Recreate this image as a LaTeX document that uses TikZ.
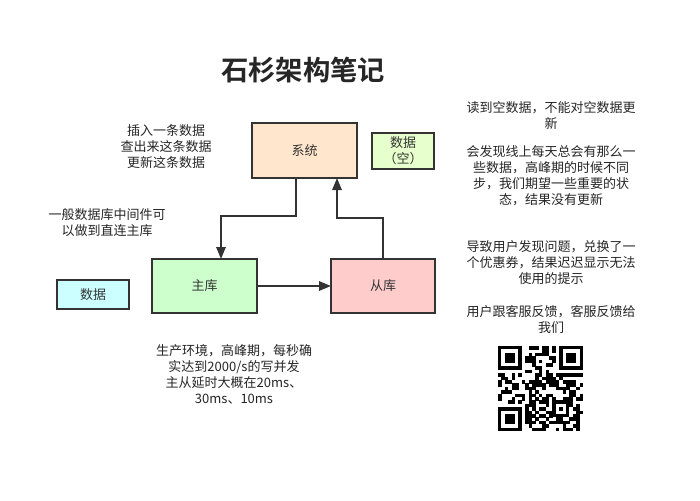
\documentclass[tikz,border=0pt]{standalone}
\usepackage{fontspec}
\setmainfont{Noto Sans CJK SC}[BoldFont={Noto Sans CJK SC Bold}]
\usetikzlibrary{arrows.meta}
\tikzset{
  box/.style={draw=black!80, line width=1.5pt, outer sep=0pt, inner sep=0pt, font=\fontsize{9.75}{12}\selectfont, text=black!80},
  note/.style={align=center, inner sep=0pt, font=\fontsize{9.75}{12}\selectfont, text=black!85},
  arr/.style={draw=black!80, line width=1.5pt, -{Triangle[length=9pt,width=7pt]}},
  qr/.style={fill=black, draw=none}
}
\begin{document}
\begin{tikzpicture}[x=0.75pt, y=-0.75pt]
\fill[white] (0,0) rectangle (700,500);
\useasboundingbox (0,0) rectangle (700,500);
\node[font=\fontsize{20.5}{24}\selectfont\bfseries, text=black!85] (title) at (303,70) {石杉架构笔记};

\node[box, fill={rgb,255:red,255;green,230;blue,204}, minimum width=78.75pt, minimum height=41.25pt] (sys) at (304.5,150.5) {系统};
\node[box, fill={rgb,255:red,230;green,255;blue,204}, minimum width=46.5pt, minimum height=27pt, align=center] (empty) at (403,151) {数据\\（空）};
\node[box, fill={rgb,255:red,204;green,255;blue,204}, minimum width=78.75pt, minimum height=40.5pt] (master) at (204.5,286) {主库};
\node[box, fill={rgb,255:red,255;green,204;blue,204}, minimum width=78pt, minimum height=40.5pt] (slave) at (383,286) {从库};
\node[box, fill={rgb,255:red,204;green,255;blue,255}, minimum width=54pt, minimum height=21.75pt] (data) at (93,294.5) {数据};

\coordinate (a1) at (296,216);
\coordinate (a2) at (221,216);
\coordinate (b1) at (383,218);
\coordinate (b2) at (337,218);
\draw[arr] (a1 |- sys.south) -- (a1) -- (a2) -- (a2 |- master.north);
\draw[arr] (b1 |- slave.north) -- (b1) -- (b2) -- (b2 |- sys.south);
\draw[arr] (master.east) -- (slave.west);

\node[note] (n1) at (166,147) {插入一条数据\\查出来这条数据\\更新这条数据};
\node[note] (n2) at (107,223) {一般数据库中间件可\\以做到直连主库};
\node[note] (n3) at (551,115) {读到空数据，不能对空数据更\\新};
\node[note] (n4) at (551,176) {会发现线上每天总会有那么一\\些数据，高峰期的时候不同\\步，我们期望一些重要的状\\态，结果没有更新};
\node[note] (n5) at (551,263) {导致用户发现问题，兑换了一\\个优惠券，结果迟迟显示无法\\使用的提示};
\node[note] (n6) at (551,320) {用户跟客服反馈，客服反馈给\\我们};
\node[note] (n7) at (234,374) {生产环境，高峰期，每秒确\\实达到2000/s的写并发\\主从延时大概在20ms、\\30ms、10ms};

% QR code
\begin{scope}[shift={(498,346)}, x=2.55pt, y=-2.55pt]
\pgfmathsetseed{12}
\foreach \i in {0,...,24}{
  \foreach \j in {0,...,24}{
    \pgfmathtruncatemacro\r{rnd<0.5}
    \pgfmathtruncatemacro\f{(\i<8 && \j<8) || (\i>16 && \j<8) || (\i<8 && \j>16) || (\i>15 && \i<21 && \j>15 && \j<21)}
    \ifnum\r=1 \ifnum\f=0 \fill[qr] (\i,\j) rectangle ++(1.05,1.05); \fi\fi
  }
}
\foreach \ox/\oy in {0/0, 18/0, 0/18}{
  \fill[qr] (\ox,\oy) rectangle ++(7,7);
  \fill[white] (\ox+1,\oy+1) rectangle ++(5,5);
  \fill[qr] (\ox+2,\oy+2) rectangle ++(3,3);
}
\fill[qr] (16,16) rectangle ++(5,5);
\fill[white] (17,17) rectangle ++(3,3);
\fill[qr] (18,18) rectangle ++(1,1);
\end{scope}
\end{tikzpicture}
\end{document}
